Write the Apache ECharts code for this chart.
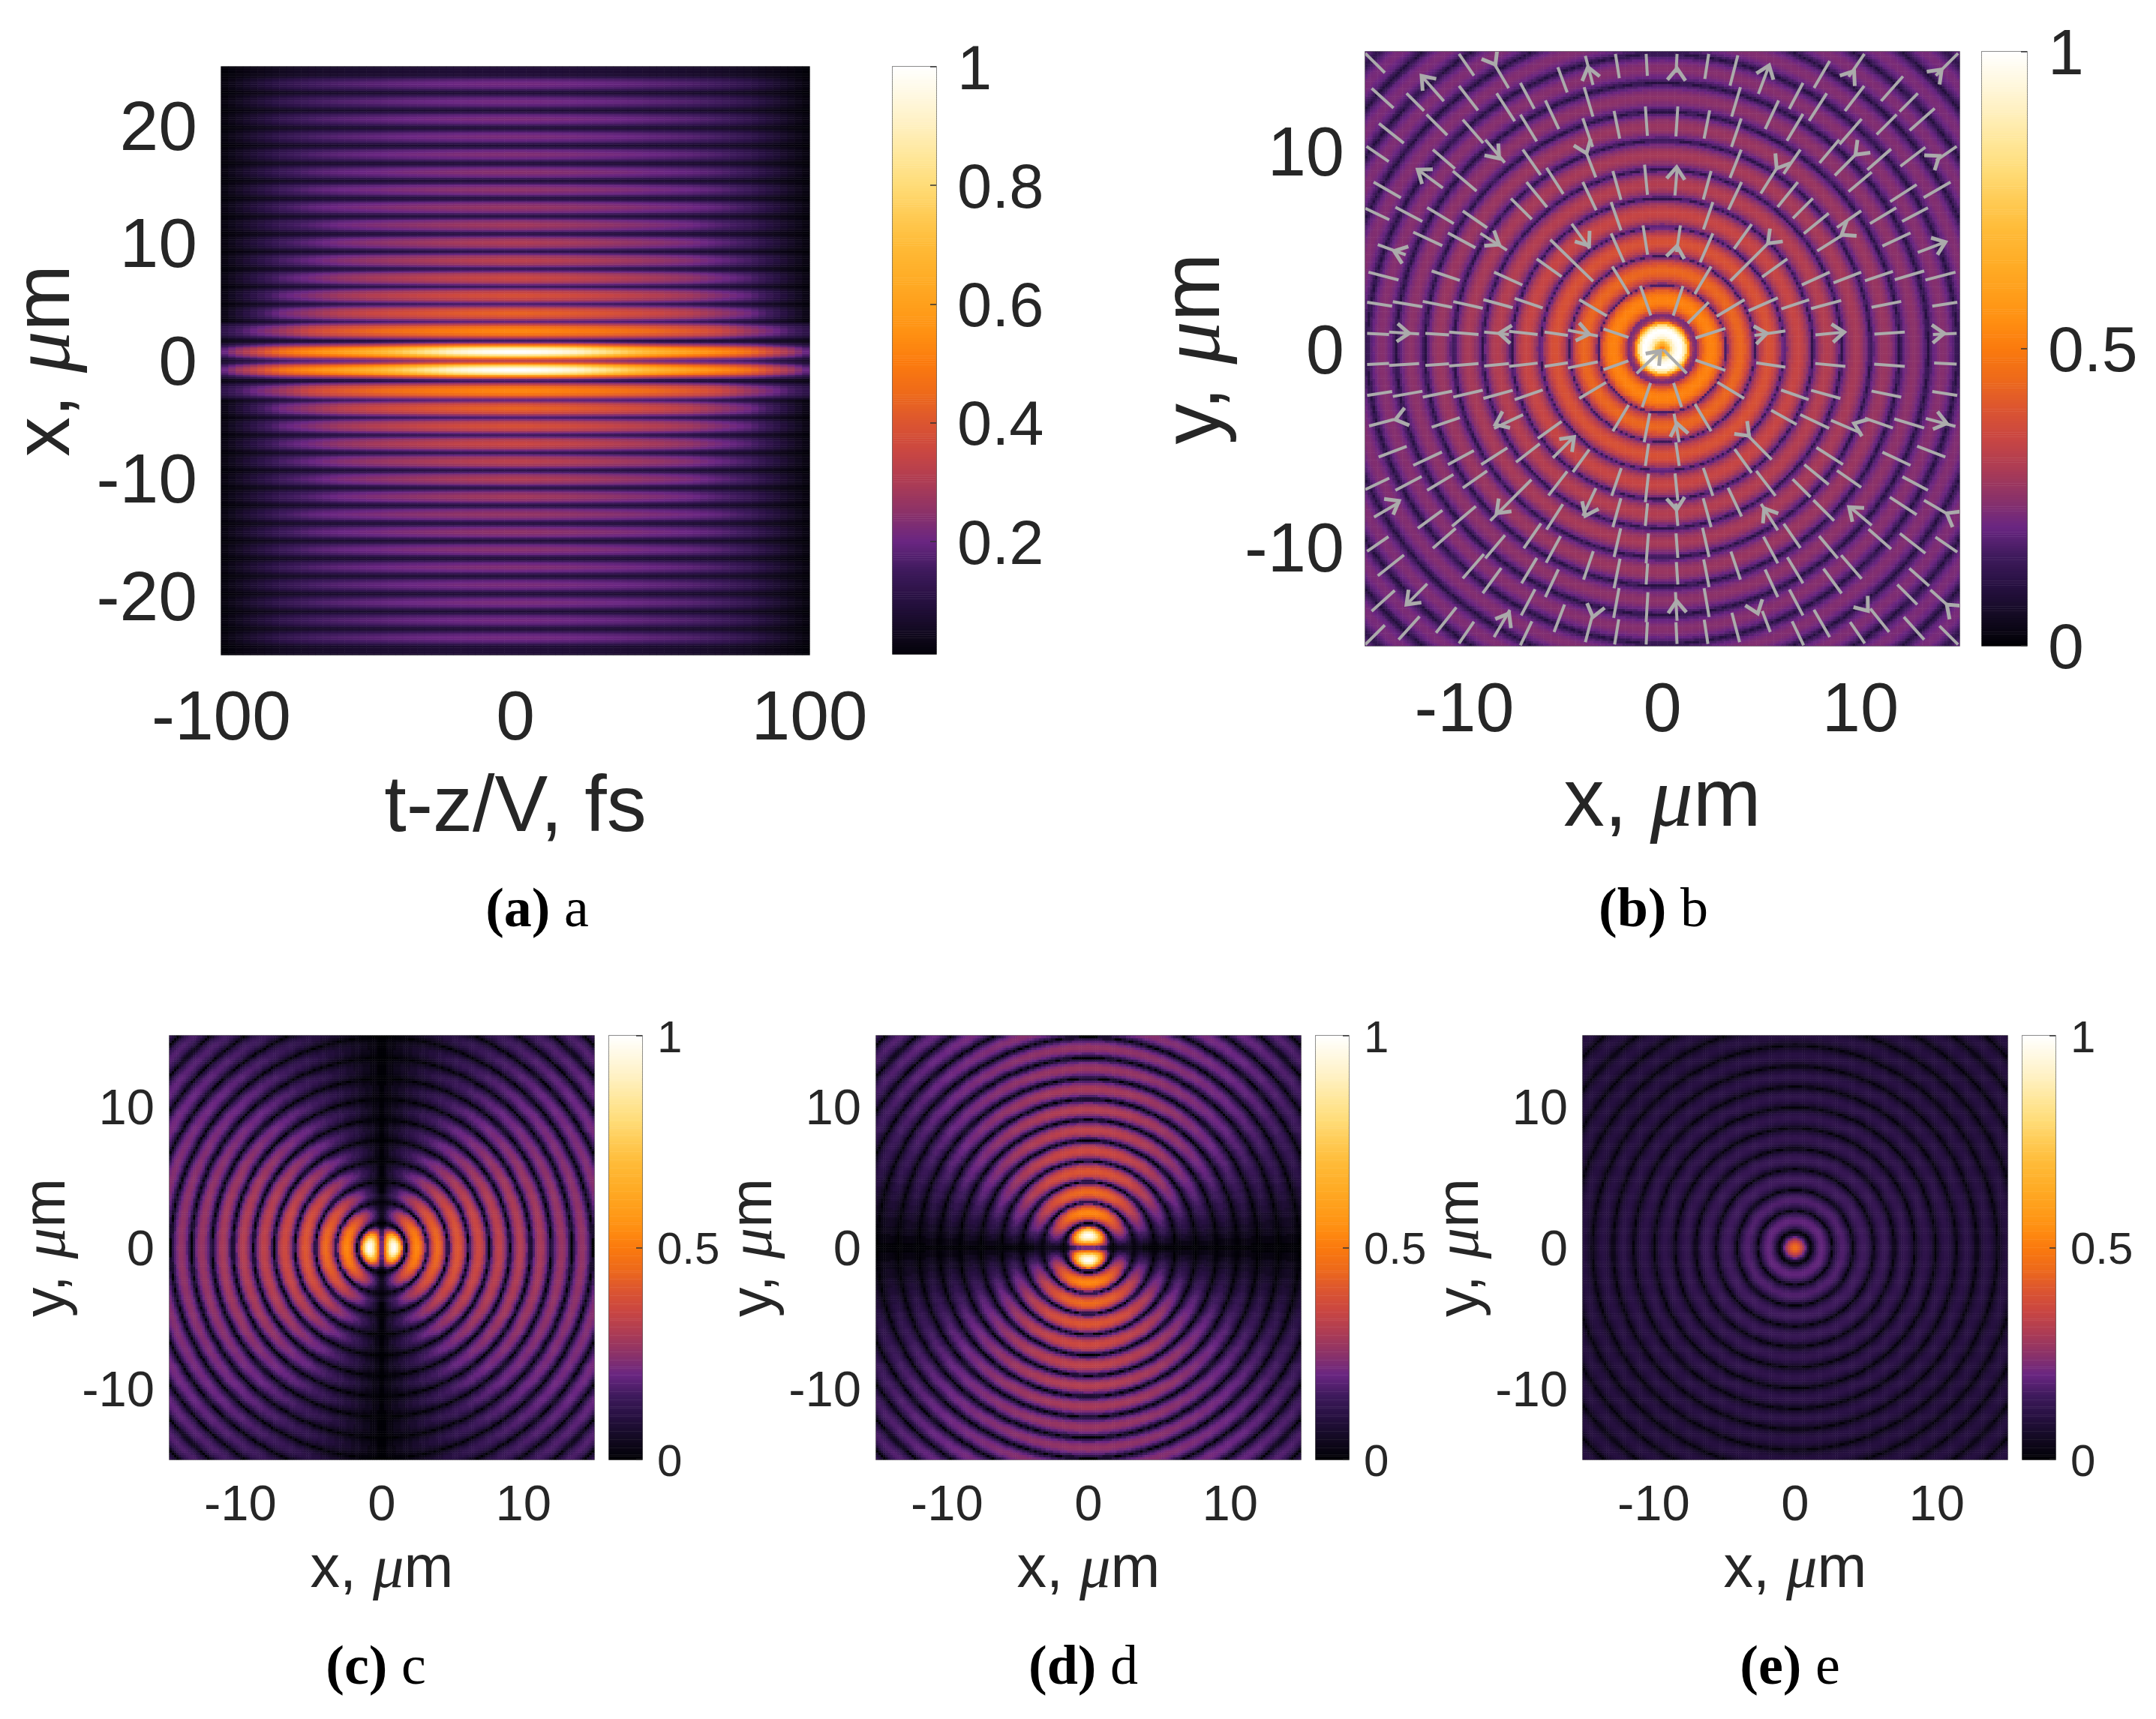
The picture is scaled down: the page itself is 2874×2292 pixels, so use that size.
<!DOCTYPE html>
<html>
<head>
<meta charset="utf-8">
<title>field maps</title>
<script src="https://cdn.jsdelivr.net/npm/echarts@6/dist/echarts.min.js"></script>
<style>
    html, body { margin: 0; padding: 0; background: #fff; }
    #main { width: 2874px; height: 2292px; }
</style>
</head>
<body>
<div id="main"></div>
<script>
// colour table, equal steps from 0 to 1
var barColors = ['#000004', '#130a22', '#261040', '#3e1a5c', '#6a2682', '#8c3268', '#ad3c54',
    '#c94642', '#dc5530', '#ee6a1a', '#fb7a0e', '#ff9012', '#ffa01c', '#ffae28', '#ffbb38',
    '#ffcb55', '#ffdc78', '#ffe79a', '#fff0c0', '#fff8e0', '#ffffff'];

// The maps are too dense to list cell by cell, so each one is kept as profiles estimated
// from the picture, one line per ring. Every heatmap cell takes the nearest entry of them.

// panel a: brightness against |x|, one entry every rowStep um, at t-z/V = 0
var rowStep = 0.075;
var rowProfile = [
    .27, .34, .42, .52, .62, .72, .82, .89, .95, .98, 1, .995, .98, .93, .88, .80, .7, .59, .48, .39, .3, .23, .17, .14,
    .12, .231, .30, .356, .403, .442, .473, .497, .516, .526, .53, .526, .516, .497, .473, .442, .403, .356, .30, .231,
    .10, .189, .245, .29, .328, .359, .384, .404, .418, .427, .43, .427, .418, .404, .384, .359, .328, .29, .245, .189,
    .08, .161, .212, .253, .287, .316, .338, .356, .37, .377, .38, .377, .37, .356, .338, .316, .287, .253, .212, .161,
    .07, .146, .193, .231, .263, .29, .311, .328, .34, .347, .35, .347, .34, .328, .311, .29, .263, .231, .193, .146,
    .06, .13, .174, .21, .239, .264, .284, .299, .311, .317, .32, .317, .311, .299, .284, .264, .239, .21, .174, .13,
    .05, .118, .16, .194, .223, .246, .265, .28, .291, .298, .30, .298, .291, .28, .265, .246, .223, .194, .16, .118,
    .05, .112, .151, .182, .209, .231, .248, .262, .272, .278, .28, .278, .272, .262, .248, .231, .209, .182, .151, .112,
    .05, .107, .142, .171, .195, .215, .231, .243, .253, .258, .26, .258, .253, .243, .231, .215, .195, .171, .142, .107,
    .04, .097, .132, .161, .185, .205, .221, .233, .243, .248, .25, .248, .243, .233, .221, .205, .185, .161, .132, .097,
    .04, .094, .128, .155, .178, .197, .212, .224, .233, .238, .24, .238, .233, .224, .212, .197, .178, .155, .128, .094,
    .04, .091, .124, .149, .171, .189, .203, .215, .223, .228, .23, .228, .223, .215, .203, .189, .171, .149, .124, .091,
    .04, .089, .119, .144, .164, .181, .195, .206, .214, .218, .22, .218, .214, .206, .195, .181, .164, .144, .119, .089,
    .04, .089, .119, .144, .164, .181, .195, .206, .214, .218, .22, .218, .214, .206, .195, .181, .164, .144, .119, .089,
    .04, .086, .115, .138, .157, .173, .186, .196, .204, .208, .21, .208, .204, .196, .186, .173, .157, .138, .115, .086,
    .04, .086, .115, .138, .157, .173, .186, .196, .204, .208, .21, .208, .204, .196, .186, .173, .157, .138, .115, .086
];
// panel a: falloff against |t-z/V|, one entry every pulseStep fs, for four bands of |x|
var pulseStep = 2.5;
var pulseBandEdges = [1.8, 3.3, 12.3];
var pulseCore = [1, 1, .995, .99, .98, .97, .96, .945, .93, .91, .885, .86, .84, .815, .79, .765, .74, .72, .70, .68, .66,
    .645, .63, .615, .60, .585, .57, .555, .54, .525, .51, .49, .47, .44, .41, .375, .34, .31, .28, .24, .20];
var pulseNear = [1, 1, .995, .99, .98, .975, .97, .96, .95, .94, .935, .93, .92, .91, .90, .89, .88, .87, .86, .845, .83,
    .815, .80, .785, .77, .75, .73, .705, .68, .64, .60, .56, .52, .485, .45, .415, .38, .34, .30, .265, .23];
var pulseMid = [1, 1, .995, .985, .98, .975, .97, .96, .95, .94, .93, .92, .91, .90, .885, .87, .86, .85, .835, .82, .81,
    .79, .775, .755, .74, .71, .68, .65, .62, .59, .56, .53, .50, .45, .40, .35, .30, .245, .19, .135, .08];
var pulseFar = [1, 1, .995, .995, .99, .985, .98, .975, .97, .96, .95, .945, .94, .93, .92, .91, .90, .89, .875, .86, .85,
    .84, .825, .81, .80, .78, .76, .74, .72, .685, .65, .615, .58, .525, .47, .415, .36, .295, .23, .165, .10];

// panels b-e: brightness against radius, one entry every ringStep um
var ringStep = 0.073;
var totalProfile = [
    .5, .52, .56, .62, .68, .75, .82, .88, .92, .96, .98, .995, 1, 1, .97, .91, .82, .70, .55, .44, .33, .27, .24, .225,
    .22, .30, .35, .39, .43, .455, .48, .50, .51, .517, .52, .517, .51, .50, .48, .455, .43, .39, .35, .30,
    .16, .236, .283, .321, .353, .38, .40, .418, .43, .437, .44, .437, .43, .418, .40, .38, .353, .321, .283, .236,
    .14, .206, .248, .281, .309, .332, .351, .365, .376, .383, .385, .383, .376, .365, .351, .332, .309, .281, .248, .206,
    .13, .188, .225, .254, .278, .299, .315, .328, .337, .343, .345, .343, .337, .328, .315, .299, .278, .254, .225, .188,
    .12, .171, .204, .229, .251, .269, .283, .295, .303, .308, .31, .308, .303, .295, .283, .269, .251, .229, .204, .171,
    .115, .162, .192, .216, .236, .252, .266, .276, .284, .288, .29, .288, .284, .276, .266, .252, .236, .216, .192, .162,
    .11, .153, .18, .202, .22, .236, .248, .257, .264, .268, .27, .268, .264, .257, .248, .236, .22, .202, .18, .153,
    .105, .144, .169, .188, .205, .219, .23, .238, .245, .249, .25, .249, .245, .238, .23, .219, .205, .188, .169, .144,
    .10, .138, .162, .18, .197, .21, .22, .229, .235, .239, .24, .239, .235, .229, .22, .21, .197, .18, .162, .138,
    .10, .136, .159, .178, .193, .206, .216, .224, .23, .234, .235, .234, .23, .224, .216, .206, .193, .178, .159, .136,
    .095, .131, .154, .173, .188, .201, .211, .219, .225, .229, .23, .229, .225, .219, .211, .201, .188, .173, .154, .131,
    .09, .126, .149, .168, .183, .196, .206, .214, .22, .224, .225, .224, .22, .214, .206, .196, .183, .168, .149, .126,
    .09, .125, .147, .165, .18, .192, .202, .21, .215, .219, .22, .219, .215, .21, .202, .192, .18, .165, .147, .125,
    .085, .12, .142, .16, .175, .187, .197, .205, .21, .214, .215, .214, .21, .205, .197, .187, .175, .16, .142, .12,
    .085, .119, .14, .157, .171, .183, .193, .2, .206, .209, .21, .209, .206, .2, .193, .183, .171, .157, .14, .119
];
var lobeProfile = [
    0, .14, .28, .40, .52, .62, .72, .81, .88, .93, .97, .99, 1, .99, .96, .90, .83, .74, .64, .52, .4, .27, .14, .05,
    0, .143, .233, .305, .366, .416, .456, .488, .511, .525, .53, .525, .511, .488, .456, .416, .366, .305, .233, .143,
    0, .122, .198, .259, .31, .353, .387, .414, .434, .446, .45, .446, .434, .414, .387, .353, .31, .259, .198, .122,
    0, .108, .176, .23, .276, .314, .344, .368, .386, .396, .40, .396, .386, .368, .344, .314, .276, .23, .176, .108,
    0, .097, .158, .207, .248, .283, .31, .331, .347, .356, .36, .356, .347, .331, .31, .283, .248, .207, .158, .097,
    0, .089, .145, .19, .228, .259, .284, .304, .318, .327, .33, .327, .318, .304, .284, .259, .228, .19, .145, .089,
    0, .084, .136, .178, .214, .243, .267, .285, .299, .307, .31, .307, .299, .285, .267, .243, .214, .178, .136, .084,
    0, .078, .128, .167, .2, .228, .249, .267, .28, .287, .29, .287, .28, .267, .249, .228, .2, .167, .128, .078,
    0, .073, .119, .155, .186, .212, .232, .248, .261, .267, .27, .267, .261, .248, .232, .212, .186, .155, .119, .073,
    0, .07, .114, .15, .179, .204, .224, .239, .251, .257, .26, .257, .251, .239, .224, .204, .179, .15, .114, .07,
    0, .068, .11, .144, .173, .196, .215, .23, .241, .248, .25, .248, .241, .23, .215, .196, .173, .144, .11, .068,
    0, .065, .106, .138, .166, .188, .206, .221, .232, .238, .24, .238, .232, .221, .206, .188, .166, .138, .106, .065,
    0, .062, .101, .132, .159, .181, .198, .212, .222, .228, .23, .228, .222, .212, .198, .181, .159, .132, .101, .062,
    0, .059, .097, .127, .152, .173, .189, .202, .212, .218, .22, .218, .212, .202, .189, .173, .152, .127, .097, .059,
    0, .057, .092, .121, .145, .165, .181, .193, .203, .208, .21, .208, .203, .193, .181, .165, .145, .121, .092, .057,
    0, .054, .088, .115, .138, .157, .172, .184, .193, .198, .20, .198, .193, .184, .172, .157, .138, .115, .088, .054
];
var axialProfile = [
    .46, .46, .45, .44, .42, .39, .36, .33, .29, .25, .2, .16, .12, .08, .04, .015,
    .01, .059, .089, .114, .134, .151, .165, .176, .184, .188, .19, .188, .184, .176, .165, .151, .134, .114, .089, .059,
    .01, .053, .08, .102, .12, .136, .148, .157, .164, .168, .17, .168, .164, .157, .148, .136, .12, .102, .08, .053,
    .01, .048, .072, .09, .107, .12, .13, .139, .145, .149, .15, .149, .145, .139, .13, .12, .107, .09, .072, .048,
    .01, .044, .065, .082, .096, .108, .118, .125, .131, .134, .135, .134, .131, .125, .118, .108, .096, .082, .065, .044,
    .01, .041, .061, .076, .089, .10, .109, .116, .121, .124, .125, .124, .121, .116, .109, .10, .089, .076, .061, .041,
    .01, .04, .058, .073, .086, .096, .105, .111, .116, .119, .12, .119, .116, .111, .105, .096, .086, .073, .058, .04,
    .01, .038, .056, .07, .082, .092, .10, .107, .111, .114, .115, .114, .111, .107, .10, .092, .082, .07, .056, .038,
    .01, .037, .054, .068, .079, .089, .096, .102, .107, .109, .11, .109, .107, .102, .096, .089, .079, .068, .054, .037,
    .01, .036, .052, .065, .076, .085, .092, .097, .102, .104, .105, .104, .102, .097, .092, .085, .076, .065, .052, .036,
    .01, .034, .05, .062, .072, .081, .087, .093, .097, .099, .10, .099, .097, .093, .087, .081, .072, .062, .05, .034,
    .01, .034, .05, .062, .072, .081, .087, .093, .097, .099, .10, .099, .097, .093, .087, .081, .072, .062, .05, .034,
    .01, .034, .05, .062, .072, .081, .087, .093, .097, .099, .10, .099, .097, .093, .087, .081, .072, .062, .05, .034,
    .01, .034, .05, .062, .072, .081, .087, .093, .097, .099, .10, .099, .097, .093, .087, .081, .072, .062, .05, .034,
    .01, .034, .05, .062, .072, .081, .087, .093, .097, .099, .10, .099, .097, .093, .087, .081, .072, .062, .05, .034
];
// panels c, d: falloff away from the lobe axis, one entry every lobeAngleStep degrees
var lobeAngleStep = 2.5;
var lobeFalloff = [1, 1, 1, .995, .99, .98, .975, .965, .955, .94, .93, .915, .90, .88, .86, .84, .82, .795, .77,
    .745, .72, .69, .66, .63, .595, .56, .525, .49, .45, .41, .36, .32, .27, .21, .16, .09, .02];

// panel b, grey marks: [x, y, length] in um, x,y = outer end of a radial stroke
var strokes = [
    [-15, 14.92, 1.39], [-10.27, 14.89, 1.33], [-8.5, 14.41, 1.45], [-5.28, 14.22, 1.36], [-3.89, 14.79, 1.52], [-2.37, 14.89, 1.24], [-.82, 14.89, 1.11],
    [-14.68, 13.15, 1.48], [-12.92, 12.9, 1.25], [-12.16, 13.78, 1.7], [-10.27, 13.28, 1.57], [-8.37, 12.9, 1.68], [-7.17, 13.43, 1.49], [-5.91, 12.54, 1.6],
    [-3.95, 13.21, 1.55], [-2.44, 12.01, 1.43], [-.86, 12.24, 1.49], [-14.31, 11.38, 1.6], [-11.91, 11.83, 1.48], [-10.08, 11.57, 1.57], [-8.94, 10.56, 1.52],
    [-7.17, 11.83, 1.59], [-4.02, 11.64, 1.53], [-14.94, 10.22, 1.36], [-11.59, 10.06, 1.48], [-10.58, 8.98, 1.57], [-12.35, 9.05, 1.57], [-7.05, 10.06, 1.57],
    [-5.85, 9.14, 1.57], [-3.83, 9.87, 1.3], [-2.5, 8.98, 1.52], [-.9, 9.3, 1.53], [-14.58, 8.42, 1.59], [-6.86, 8.42, 1.64], [-7.65, 7.59, 1.49],
    [-4.02, 8.42, 1.58], [-2.59, 7.41, 1.52], [-15, 7.09, 1.34], [-13.48, 7.15, 1.54], [-11.88, 7.13, 1.57], [-10.08, 6.96, 1.5], [-4.58, 6.31, 1.54],
    [-2.59, 5.83, 1.6], [-.98, 6.23, 1.5], [-12.58, 5.89, 1.62], [-10.83, 5.85, 1.58], [-9.19, 5.83, 1.59], [-5.66, 5.51, 3.02], [-14.37, 5.26, 1.5],
    [-6.35, 4.54, 1.55], [-2.53, 4.16, 1.63], [-14.84, 3.87, 1.57], [-11.65, 3.93, 1.5], [-8.5, 3.87, 1.57], [-1.11, 3.18, 1.59], [-14.91, 2.35, 1.28],
    [-13.61, 2.38, 1.52], [-12.1, 2.39, 1.52], [-10.56, 2.38, 1.53], [-9.04, 2.48, 1.54], [-7.46, 2.54, 1.5], [-4.2, 2.48, 1.62], [-14.91, .78, 1.11],
    [-13.8, .84, 1.52], [-11.97, .78, 1.2], [-10.77, .84, 1.49], [-9, .84, 1.26], [-7.74, .88, 1.45], [-5.95, .84, 1.19], [-4.77, .94, 1.54], [-2.97, 1, 1.33],

    [.74, 14.89, .95], [2.34, 14.89, 1.28], [3.81, 14.82, 1.58], [5.39, 14.31, 1.54], [8.45, 14.54, 1.58], [10.2, 14.89, 1.4], [14.93, 14.92, 1.59],
    [7.1, 13.43, 1.49], [10.19, 13.28, 1.6], [12.15, 13.76, 1.67], [3.94, 13.21, 1.55], [8.3, 12.9, 1.65], [12.9, 12.9, 1.31], [5.87, 12.54, 1.6],
    [.78, 12.24, 1.52], [2.39, 12.04, 1.46], [7.1, 11.86, 1.58], [13.75, 12.14, 1.69], [11.83, 11.83, 1.43], [3.98, 11.63, 1.52], [10.06, 11.61, 1.7],
    [8.93, 10.56, 1.54], [14.86, 10.22, 1.26], [13.28, 10.18, 1.59], [3.98, 10.06, 1.54], [6.97, 10.06, 1.49], [11.55, 10.09, 1.6], [9.75, 9.8, 1.48],
    [5.77, 9.11, 1.5], [10.57, 8.92, 1.53], [2.46, 8.98, 1.5], [.75, 9.17, 1.43], [4, 8.42, 1.55], [6.84, 8.42, 1.62], [12.84, 8.29, 1.59],
    [14.55, 8.42, 1.57], [7.6, 7.6, 1.43], [11.81, 7.12, 1.55], [13.41, 7.12, 1.48], [2.55, 7.41, 1.46], [10.04, 6.97, 1.49], [8.4, 6.84, 1.62],
    [4.51, 6.29, 1.53], [14.29, 5.39, 1.49], [12.53, 5.85, 1.57], [9.12, 5.76, 1.54], [.91, 6.23, 1.36], [2.55, 5.83, 1.6], [5.33, 5.32, 2.68],
    [6.31, 4.54, 1.57], [2.46, 4.16, 1.62], [8.45, 3.87, 1.55], [10.04, 3.87, 1.5], [11.64, 3.91, 1.49], [13.22, 3.93, 1.55], [14.8, 3.87, 1.57],
    [1.04, 3.17, 1.58], [2.34, 2.35, 1.5], [4.15, 2.48, 1.64], [5.83, 2.57, 1.62], [7.41, 2.48, 1.48], [9.03, 2.44, 1.58], [12.06, 2.39, 1.53],
    [14.89, 2.35, 1.28], [3.18, 1.03, 1.59], [6.21, .9, 1.58], [9.24, .84, 1.52], [12.24, .84, 1.54], [14.86, .78, 1.2],

    [-14.91, -.8, 1.11], [-13.8, -.84, 1.52], [-11.97, -.84, 1.2], [-10.77, -.87, 1.49], [-9, -.87, 1.26], [-7.74, -.89, 1.45], [-5.95, -.89, 1.19],
    [-4.77, -.97, 1.54], [-2.97, -1.06, 1.33], [-1.3, -1.25, 1.65], [-14.91, -2.36, 1.28], [-13.61, -2.41, 1.52], [-12.1, -2.44, 1.52], [-10.56, -2.44, 1.53],
    [-9.04, -2.51, 1.54], [-7.46, -2.57, 1.5], [-4.2, -2.51, 1.58], [-1.02, -2.95, 1.29], [-14.81, -3.9, 1.3], [-11.65, -3.96, 1.5], [-8.5, -4.02, 1.62],
    [-6.29, -4.53, 1.48], [-2.5, -4.17, 1.55], [-.92, -4.72, 1.49], [-14.33, -5.47, 1.52], [-12.58, -5.89, 1.6], [-10.83, -5.85, 1.49], [-9.15, -5.85, 1.57],
    [-7.39, -5.73, 1.52], [-5.53, -5.51, 1.5], [-4.52, -6.23, 1.41], [-.86, -5.92, 1.14], [-15, -7.11, 1.34], [-13.48, -7.15, 1.5], [-11.88, -7.15, 1.55],
    [-10.08, -7.03, 1.5], [-8.69, -8.69, 2.94], [-5.75, -7.41, 1.54], [-2.56, -7.43, 1.48], [-.86, -7.75, 1.45], [-14.56, -8.5, 1.5], [-12.35, -9.07, 1.54],
    [-10.62, -8.97, 1.57], [-4.02, -8.44, 1.55], [-2.5, -9.01, 1.52], [-.86, -8.95, 1.15], [-5.85, -9.14, 1.53], [-11.59, -10.08, 1.53], [-7, -10.08, 1.53],
    [-8.94, -10.59, 1.54], [-14.91, -10.23, 1.31], [-5.87, -10.81, 1.53], [-2.44, -10.52, 1.49], [-.82, -10.84, 1.52], [-14.37, -11.47, 1.69], [-10.08, -11.6, 1.63],
    [-7.11, -11.85, 1.5], [-3.98, -11.66, 1.52], [-2.44, -12.1, 1.53], [-.82, -11.91, 1.07], [-9.07, -12.35, 1.58], [-5.91, -12.54, 1.55], [-12.92, -12.92, 1.48],
    [-14.68, -13.26, 1.57], [-2.46, -13.59, 1.53], [-.82, -13.81, 1.52], [-7.13, -13.47, 1.5], [-5.47, -14.31, 1.49], [-11.43, -14.35, 1.65], [-8.5, -14.56, 1.59],
    [-3.89, -14.82, 1.31], [-13.32, -14.69, 1.58], [-10.27, -14.88, 1.33], [-15, -14.94, 1.39], [-7.17, -14.98, 1.35], [-2.41, -14.94, 1.29], [-.82, -14.94, 1.14],

    [3.18, -1.09, 1.6], [6.21, -.93, 1.49], [9.24, -.89, 1.53], [12.24, -.89, 1.55], [14.86, -.78, 1.14], [1.23, -1.24, 1.69], [4.13, -2.51, 1.58],
    [7.39, -2.57, 1.48], [8.99, -2.51, 1.54], [12.06, -2.44, 1.53], [14.89, -2.36, 1.28], [.97, -2.95, 1.29], [2.46, -4.17, 1.6], [6.78, -3.83, 1.48],
    [8.42, -4.02, 1.62], [10.06, -4.27, 1.68], [11.64, -4, 1.5], [13.22, -4, 1.58], [14.8, -3.92, 1.55], [.85, -5.92, 1.21], [.85, -4.72, 1.46],
    [5.52, -5.6, 1.65], [9.12, -5.85, 1.59], [12.53, -5.89, 1.57], [14.29, -5.47, 1.53], [4.51, -6.27, 1.48], [2.55, -7.43, 1.49], [5.71, -7.43, 1.59],
    [8.4, -6.86, 1.59], [10.04, -7, 1.49], [13.41, -7.15, 1.46], [.78, -7.68, 1.39], [4, -8.47, 1.6], [7.48, -7.49, 1.28], [8.67, -8.69, 1.48],
    [12.84, -8.38, 1.62], [14.36, -8.32, 1.33], [.78, -8.95, 1.14], [2.46, -9.01, 1.52], [5.83, -9.17, 1.58], [6.97, -10.06, 1.48], [10.57, -8.92, 1.46],
    [11.55, -10.11, 1.52], [13.28, -10.33, 1.63], [14.89, -10.27, 1.34], [2.36, -10.52, 1.52], [.78, -10.56, 1.24], [5.83, -10.84, 1.53], [8.86, -10.59, 1.48],
    [10.06, -11.62, 1.58], [.78, -11.91, 1.14], [2.36, -12.04, 1.43], [3.94, -11.66, 1.5], [7.1, -11.85, 1.54], [13.47, -11.98, 1.34], [5.83, -12.54, 1.53],
    [9.05, -12.36, 1.55], [12.87, -12.92, 1.43], [14.36, -12.92, 1.11], [2.36, -13.55, 1.48], [7.1, -13.47, 1.48], [.74, -13.74, 1.45], [11.45, -14.31, 1.52],
    [5.45, -14.31, 1.14], [8.45, -14.56, 1.59], [13.22, -14.69, 1.54], [3.9, -14.82, 1.54], [2.3, -14.91, 1.24], [.74, -14.91, 1.1], [7.13, -14.98, 1.35],
    [10.22, -14.88, 1.31], [14.93, -14.94, 1.33]
];
// arrow heads on those strokes: [x, y, side], side 1 = barbs open outward, -1 = barbs open inward
var arrowHeads = [
    [-8.43, 14.35, 1], [-3.76, 14.22, -1], [-12.16, 13.78, -1], [-8.24, 9.61, 1], [-3.83, 9.87, 1], [-12.35, 9.05, -1],
    [-8.24, 5.26, 1], [-3.7, 5.2, 1], [-13.55, 4.94, -1], [-12.79, .78, 1], [-8.24, .78, -1], [-3.7, .74, 1],
    [.74, 14.16, -1], [5.39, 14.31, -1], [9.68, 14.03, -1], [14.1, 14.1, -1], [9.75, 9.8, 1], [5.77, 9.11, 1], [13.98, 9.74, -1], [.72, 9.17, -1],
    [9.05, 5.76, 1], [14.29, 5.39, -1], [.74, 5.2, -1], [5.33, 5.32, 1], [5.27, .78, -1], [9.18, .84, -1], [14.23, .78, -1],
    [-.1, -.11, 1], [-13.48, -3.58, -1], [-8.43, -3.83, -1], [-4.46, -4.46, 1], [-13.3, -7.68, 1], [-8.37, -8.31, -1], [-3.89, -8.44, -1],
    [-12.92, -12.92, -1], [-7.74, -13.36, 1], [-3.51, -13.55, -1],
    [.74, -3.77, 1], [4.38, -4.4, -1], [9.68, -3.77, 1], [14.36, -3.77, -1], [.72, -8.13, -1], [5.14, -8.06, 1], [9.43, -8, 1], [14.36, -8.31, 1],
    [.72, -12.73, 1], [4.82, -13.37, -1], [10.38, -13.24, -1], [14.36, -12.92, 1]
];

// ticks
var pulseTicksX = [-100, 0, 100];
var pulseTicksY = [-20, -10, 0, 10, 20];
var mapTicksXY = [-10, 0, 10];
var pulseBarTicks = [0.2, 0.4, 0.6, 0.8, 1];
var mapBarTicks = [0, 0.5, 1];

var textColor = '#262626';
var sansFont = '"Liberation Sans", Arial, sans-serif';
var serifFont = '"Liberation Serif", serif';

function nearest(table, step, at) {
    var i = Math.round(at / step);
    return table[Math.min(i, table.length - 1)];
}

// cells for panel a
function pulseCells(tCats, xCats) {
    var cells = [];
    for (var j = 0; j < xCats.length; j++) {
        var ax = Math.abs(xCats[j]);
        var band = ax < pulseBandEdges[0] ? pulseCore : ax < pulseBandEdges[1] ? pulseNear : ax < pulseBandEdges[2] ? pulseMid : pulseFar;
        var row = nearest(rowProfile, rowStep, ax);
        for (var i = 0; i < tCats.length; i++) {
            cells.push([i, j, row * nearest(band, pulseStep, Math.abs(tCats[i]))]);
        }
    }
    return cells;
}

// cells for panels b-e, lobeAxis: 'x' or 'y' for the two-lobed maps, null for round ones
function ringCells(cats, profile, lobeAxis) {
    var cells = [];
    for (var j = 0; j < cats.length; j++) {
        for (var i = 0; i < cats.length; i++) {
            var x = cats[i], y = cats[j];
            var v = nearest(profile, ringStep, Math.sqrt(x * x + y * y));
            if (lobeAxis) {
                var a = lobeAxis == 'x' ? Math.atan2(Math.abs(y), Math.abs(x)) : Math.atan2(Math.abs(x), Math.abs(y));
                v = v * nearest(lobeFalloff, lobeAngleStep, a * 180 / Math.PI);
            }
            cells.push([i, j, v]);
        }
    }
    return cells;
}

function cellCentres(from, to, n) {
    var out = [];
    for (var i = 0; i < n; i++) {
        out.push(from + (i + 0.5) * (to - from) / n);
    }
    return out;
}

var grids = [], xAxes = [], yAxes = [], series = [], heatIndex = [];

function addGrid(box) {
    grids.push({
        show: true, left: box[0], top: box[1], width: box[2], height: box[3],
        backgroundColor: 'transparent', borderColor: box[4], borderWidth: 1.5
    });
    return grids.length - 1;
}

function heatSeries(xi, yi, cells) {
    heatIndex.push(series.length);
    series.push({
        type: 'heatmap', xAxisIndex: xi, yAxisIndex: yi, data: cells,
        progressive: 0, silent: true, emphasis: {disabled: true}, animation: false
    });
}

function nameRich(size) {
    return {
        t: {fontFamily: sansFont, fontSize: size, color: textColor},
        m: {fontFamily: serifFont, fontStyle: 'italic', fontSize: size * 1.05, color: textColor}
    };
}

// one map: hidden category axes carry the cells, value axes on top carry the scale
function addMap(m) {
    var g = addGrid([m.box[0], m.box[1], m.box[2], m.box[3], '#555']);
    xAxes.push({type: 'category', gridIndex: g, data: m.xCats, show: false});
    yAxes.push({type: 'category', gridIndex: g, data: m.yCats, show: false});
    var xi = xAxes.length - 1, yi = yAxes.length - 1;
    heatSeries(xi, yi, m.cells);
    xAxes.push({
        type: 'value', gridIndex: g, position: 'bottom', min: m.xRange[0], max: m.xRange[1],
        axisLine: {show: false}, axisTick: {show: false}, splitLine: {show: false},
        axisLabel: {customValues: m.xTicks, color: textColor, fontFamily: sansFont, fontSize: m.tickSize, margin: m.xMargin},
        name: m.xName, nameLocation: 'middle', nameGap: m.xNameGap,
        nameTextStyle: {fontFamily: sansFont, fontSize: m.nameSize, color: textColor, rich: nameRich(m.nameSize)}
    });
    // top aligned with a short line box: the digits sit lineHeight/2 below the tick, as in the picture
    yAxes.push({
        type: 'value', gridIndex: g, position: 'left', min: m.yRange[0], max: m.yRange[1],
        axisLine: {show: false}, axisTick: {show: false}, splitLine: {show: false},
        axisLabel: {customValues: m.yTicks, color: textColor, fontFamily: sansFont, fontSize: m.tickSize, margin: m.yMargin, verticalAlign: 'top', lineHeight: m.tickDrop},
        name: m.yName, nameLocation: 'middle', nameGap: m.yNameGap,
        nameTextStyle: {fontFamily: sansFont, fontSize: m.nameSize, color: textColor, rich: nameRich(m.nameSize)}
    });
    return [xAxes.length - 1, yAxes.length - 1];
}

// colour bar: a one column heatmap with its own scale on the right
function addBar(b) {
    var g = addGrid([b.box[0], b.box[1], b.box[2], b.box[3], '#333']);
    var levels = [], cells = [];
    var n = 256;
    for (var i = 0; i < n; i++) {
        levels.push(b.min + (i + 0.5) * (1 - b.min) / n);
        cells.push([0, i, levels[i]]);
    }
    xAxes.push({type: 'category', gridIndex: g, data: ['bar'], show: false});
    yAxes.push({type: 'category', gridIndex: g, data: levels, show: false});
    heatSeries(xAxes.length - 1, yAxes.length - 1, cells);
    yAxes.push({
        type: 'value', gridIndex: g, position: 'right', min: b.min, max: 1, z: 5,
        axisLine: {show: false}, splitLine: {show: false},
        axisTick: {show: true, inside: true, length: 8, customValues: b.ticks, lineStyle: {color: '#333', width: 1.5}},
        axisLabel: {customValues: b.ticks, color: textColor, fontFamily: sansFont, fontSize: b.size, margin: b.margin, verticalAlign: 'top', lineHeight: b.drop}
    });
}

var pulseT = cellCentres(-100, 100, 81);
var pulseX = cellCentres(-25, 25, 500);
addMap({
    box: [295, 89, 784, 784], xCats: pulseT, yCats: pulseX, cells: pulseCells(pulseT, pulseX),
    xRange: [-100, 100], yRange: [-25, 25], xTicks: pulseTicksX, yTicks: pulseTicksY,
    tickSize: 93, nameSize: 106, xMargin: 41, yMargin: 32, tickDrop: 13,
    xName: 't-z/V, fs', xNameGap: 153, yName: '{t|x, }{m|μ}{t|m}', yNameGap: 177
});
addBar({box: [1190, 89, 58, 783], min: 0.01, ticks: pulseBarTicks, size: 83, margin: 28, drop: 14});

var bigCats = cellCentres(-15, 15, 240);
var bigAxes = addMap({
    box: [1820, 69, 792, 792], xCats: bigCats, yCats: bigCats, cells: ringCells(bigCats, totalProfile, null),
    xRange: [-15, 15], yRange: [-15, 15], xTicks: mapTicksXY, yTicks: mapTicksXY,
    tickSize: 92, nameSize: 109, xMargin: 43, yMargin: 28, tickDrop: 16,
    xName: '{t|x, }{m|μ}{t|m}', xNameGap: 153, yName: '{t|y, }{m|μ}{t|m}', yNameGap: 168
});
addBar({box: [2642, 69, 60, 792], min: 0, ticks: mapBarTicks, size: 86, margin: 28, drop: 12});

var smallCats = cellCentres(-15, 15, 180);
var smallMaps = [
    {left: 226, profile: lobeProfile, lobe: 'x'},
    {left: 1168, profile: lobeProfile, lobe: 'y'},
    {left: 2110, profile: axialProfile, lobe: null}
];
smallMaps.forEach(function (s) {
    addMap({
        box: [s.left, 1381, 566, 565], xCats: smallCats, yCats: smallCats, cells: ringCells(smallCats, s.profile, s.lobe),
        xRange: [-15, 15], yRange: [-15, 15], xTicks: mapTicksXY, yTicks: mapTicksXY,
        tickSize: 67, nameSize: 79, xMargin: 29, yMargin: 20, tickDrop: 10,
        xName: '{t|x, }{m|μ}{t|m}', xNameGap: 107, yName: '{t|y, }{m|μ}{t|m}', yNameGap: 120
    });
    addBar({box: [s.left + 586, 1381, 44, 565], min: 0, ticks: mapBarTicks, size: 60, margin: 20, drop: 10});
});

// grey strokes and heads on panel b
series.push({
    type: 'custom', xAxisIndex: bigAxes[0], yAxisIndex: bigAxes[1], silent: true, clip: true, z: 6,
    data: strokes, encode: {x: 0, y: 1},
    renderItem: function (params, api) {
        var x = api.value(0), y = api.value(1), len = api.value(2);
        var keep = (Math.sqrt(x * x + y * y) - len) / Math.sqrt(x * x + y * y);
        var a = api.coord([x, y]), b = api.coord([x * keep, y * keep]);
        return {
            type: 'line', shape: {x1: a[0], y1: a[1], x2: b[0], y2: b[1]},
            style: {stroke: '#ababab', lineWidth: 4, fill: null}
        };
    }
});
series.push({
    type: 'custom', xAxisIndex: bigAxes[0], yAxisIndex: bigAxes[1], silent: true, clip: true, z: 6,
    data: arrowHeads, encode: {x: 0, y: 1},
    renderItem: function (params, api) {
        var tip = api.coord([api.value(0), api.value(1)]);
        var mid = api.coord([0, 0]);
        var ang = Math.atan2(tip[1] - mid[1], tip[0] - mid[0]);
        if (api.value(2) < 0) {
            ang = ang + Math.PI;
        }
        var size = 20, open = 0.65;
        return {
            type: 'polyline',
            shape: {points: [
                [tip[0] + size * Math.cos(ang + open), tip[1] + size * Math.sin(ang + open)],
                tip,
                [tip[0] + size * Math.cos(ang - open), tip[1] + size * Math.sin(ang - open)]
            ]},
            style: {stroke: '#ababab', lineWidth: 5, fill: null}
        };
    }
});

var captions = [['(a)', 'a', 711, 1174], ['(b)', 'b', 2199, 1174], ['(c)', 'c', 496, 2184], ['(d)', 'd', 1439, 2184], ['(e)', 'e', 2381, 2184]];

var chart = echarts.init(document.getElementById('main'));
chart.setOption({
    backgroundColor: '#fff',
    animation: false,
    title: captions.map(function (c) {
        return {
            text: '{b|' + c[0] + '}{r| ' + c[1] + '}', left: c[2], top: c[3], textAlign: 'center',
            textStyle: {
                fontWeight: 'normal',
                rich: {
                    b: {fontFamily: serifFont, fontWeight: 'bold', fontSize: 74, color: '#000'},
                    r: {fontFamily: serifFont, fontWeight: 'normal', fontSize: 74, color: '#000'}
                }
            }
        };
    }),
    visualMap: {
        type: 'continuous', show: false, min: 0, max: 1, dimension: 2,
        seriesIndex: heatIndex, inRange: {color: barColors}
    },
    grid: grids,
    xAxis: xAxes,
    yAxis: yAxes,
    series: series
});
</script>
</body>
</html>
